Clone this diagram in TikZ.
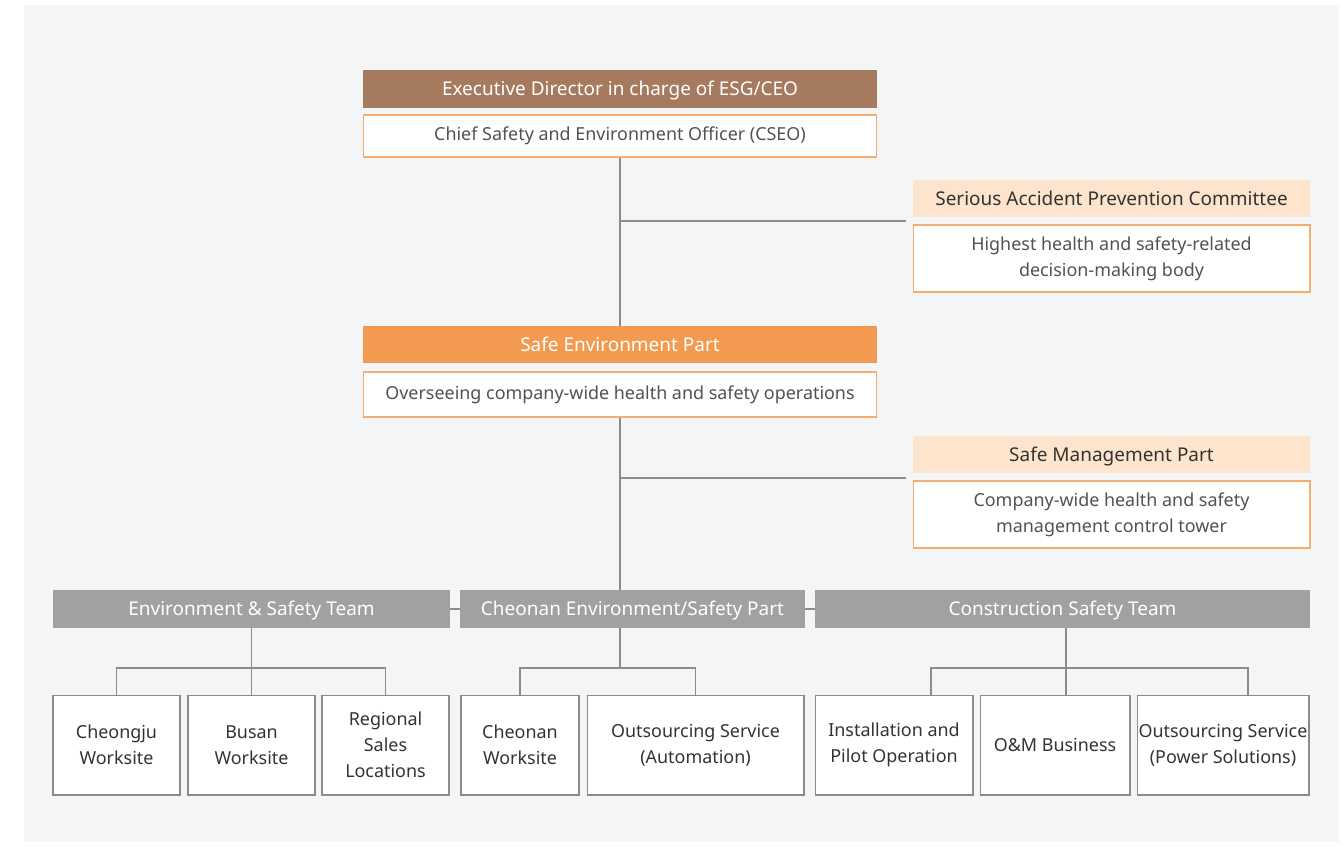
\documentclass[tikz,border=0pt]{standalone}
\usepackage{fontspec}
\setmainfont{Noto Sans}
\usepackage{xcolor}
\usetikzlibrary{positioning,calc,backgrounds}

\definecolor{esgbrown}{HTML}{A67A5F}
\definecolor{esgorange}{HTML}{F29B50}
\definecolor{esgpeach}{HTML}{FDE4CC}
\definecolor{esgedge}{HTML}{F5AE70}
\definecolor{esggrey}{HTML}{A0A1A0}
\definecolor{esgline}{HTML}{8C8C8C}
\definecolor{esgbg}{HTML}{F4F5F7}
\definecolor{esgtext}{HTML}{333333}

\begin{document}
\begin{tikzpicture}[
    x=0.02cm, y=-0.02cm,
    every node/.style={font=\fontsize{10.2}{14.8}\selectfont, text=esgtext, align=center, inner sep=0pt},
    headbox/.style={rectangle, minimum height=0.76cm, font=\fontsize{10.8}{14}\selectfont, text height=0.95em, text depth=0.2em},
    topbox/.style={headbox, fill=esgbrown, text=white, minimum width=10.28cm},
    partbox/.style={headbox, fill=esgorange, text=white, minimum width=10.28cm, minimum height=0.74cm},
    peachbox/.style={headbox, fill=esgpeach, minimum width=7.94cm, minimum height=0.74cm},
    notebox/.style={rectangle, draw=esgedge, fill=white, text=esgtext!85, line width=0.6pt},
    teambox/.style={headbox, fill=esggrey, text=white},
    leafbox/.style={rectangle, draw=esgline, fill=white, line width=0.6pt, minimum height=2cm},
    link/.style={draw=esgline, line width=0.6pt}
]

% page and background
\useasboundingbox (0,0) rectangle (1344,846);
\fill[esgbg] (24,5) rectangle (1339,842);

% top of the chart
\node[topbox] (exec) at (620,89) {Executive Director in charge of ESG/CEO};
\node[notebox, minimum width=10.28cm, minimum height=0.84cm] (cseo) at (620,136) {Chief Safety and Environment Officer (CSEO)};

% committee
\node[peachbox] (committee) at (1111.5,198.5) {Serious Accident Prevention Committee};
\node[notebox, minimum width=7.94cm, minimum height=1.34cm] (comnote) at (1111.5,258.5) {Highest health and safety-related\\decision-making body};

% safe environment part
\node[partbox] (safeenv) at (620,344.5) {Safe Environment Part};
\node[notebox, minimum width=10.28cm, minimum height=0.9cm] (envnote) at (620,394.5) {Overseeing company-wide health and safety operations};

% safe management part
\node[peachbox] (safemgmt) at (1111.5,454.5) {Safe Management Part};
\node[notebox, minimum width=7.94cm, minimum height=1.34cm] (mgmtnote) at (1111.5,514.5) {Company-wide health and safety\\management control tower};

% teams
\node[teambox, minimum width=7.94cm] (envteam) at (251.5,609) {Environment \& Safety Team};
\node[teambox, minimum width=6.9cm] (cheonan) at (632.5,609) {Cheonan Environment/Safety Part};
\node[teambox, minimum width=9.9cm] (construct) at (1062.5,609) {Construction Safety Team};

% worksites
\node[leafbox, minimum width=2.54cm] (cheongju) at (116.5,745) {Cheongju\\Worksite};
\node[leafbox, minimum width=2.54cm] (busan) at (251.5,745) {Busan\\Worksite};
\node[leafbox, minimum width=2.54cm] (regional) at (385.5,745) {Regional\\Sales\\Locations};
\node[leafbox, minimum width=2.36cm] (cheonanws) at (520,745) {Cheonan\\Worksite};
\node[leafbox, minimum width=4.34cm] (outauto) at (695.5,745) {Outsourcing Service\\(Automation)};
\node[leafbox, minimum width=3.16cm] (install) at (894,745) {Installation and\\Pilot Operation};
\node[leafbox, minimum width=3cm] (omb) at (1055,745) {O\&M Business};
\node[leafbox, minimum width=3.44cm] (outps) at (1223,745) {Outsourcing Service\\(Power Solutions)};

% trunk
\coordinate (tapcom) at (620,221);
\coordinate (tapcomend) at (906,221);
\coordinate (tapmgmt) at (620,478);
\coordinate (tapmgmtend) at (906,478);
\draw[link] (cseo.south) -- (safeenv.north);
\draw[link] (envnote.south) -- (envnote.south |- cheonan.north);
\draw[link] (tapcom) -- (tapcomend);
\draw[link] (tapmgmt) -- (tapmgmtend);
\draw[link] (envteam) -- (cheonan);
\draw[link] (cheonan) -- (construct);

% branches to worksites
\coordinate (envfork) at (251.5,668);
\coordinate (cheonanfork) at (620,668);
\coordinate (constfork) at (1066,668);
\draw[link] (cheongju.north) |- (envfork) -- (envteam.south);
\draw[link] (busan.north) -- (envfork);
\draw[link] (regional.north) |- (envfork);
\draw[link] (cheonanws.north) |- (cheonanfork);
\draw[link] (outauto.north) |- (cheonanfork);
\draw[link] (cheonanfork) -- (cheonanfork |- cheonan.south);
\draw[link] ([xshift=0.74cm]install.north) |- (constfork);
\draw[link] ([xshift=0.5cm]outps.north) |- (constfork);
\draw[link] (constfork |- omb.north) -- (constfork |- construct.south);

\end{tikzpicture}
\end{document}
